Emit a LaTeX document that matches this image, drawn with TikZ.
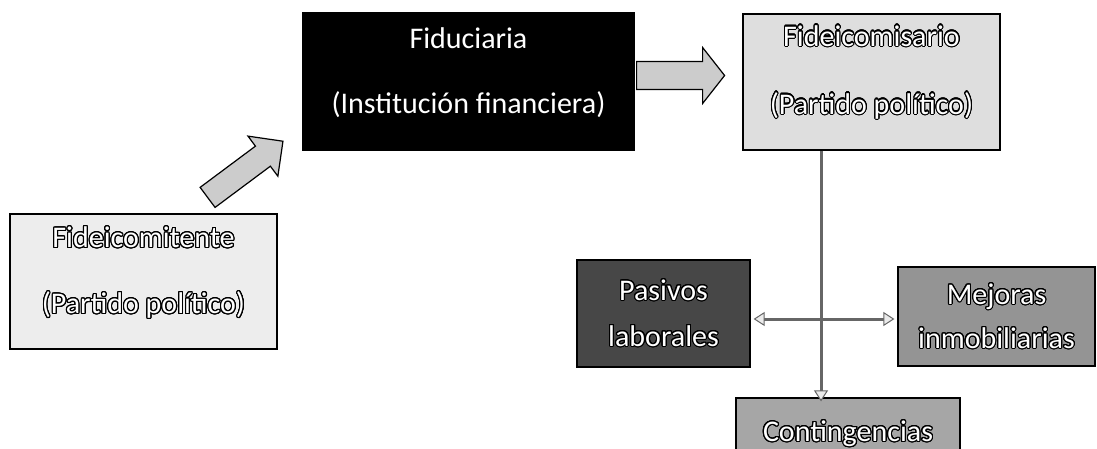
\documentclass[tikz,border=0pt]{standalone}
\usepackage{fontspec}
\setmainfont{Carlito}
\usepackage[copies]{contour}
\contourlength{1.1pt}
\contournumber{24}
\usetikzlibrary{arrows.meta,calc}
\newcommand{\olt}[1]{\contour{black}{#1}}
\tikzset{
  box/.style={draw=black, line width=1.2pt, inner sep=0pt, align=center,
    font=\fontsize{30}{36}\selectfont},
  lightbox/.style={box, fill=black!7, text=white},
  blockarrow/.style={draw=black, line width=1.2pt, fill=black!20, line join=miter},
  conn/.style={draw=black!60, line width=3pt,
    -{Triangle[length=11pt,width=14pt,fill=black!8,line width=1pt]}}
}
\begin{document}
\begin{tikzpicture}[x=1pt,y=-1pt]
\useasboundingbox (0,0) rectangle (1097,449);
% nodes
\node[lightbox, minimum width=267pt, minimum height=135pt] (fidc) at (143.5,281.5)
  {\olt{Fideicomitente}\\[30pt]\olt{(Partido político)}\\[-24pt]\strut};
\node[box, fill=black, text=white, minimum width=331pt, minimum height=137pt] (fidu) at (468.5,81.5)
  {Fiduciaria\\[29pt](Institución financiera)\\[-24pt]\strut};
\node[lightbox, fill=black!13, minimum width=257pt, minimum height=136pt] (fisa) at (871.5,82)
  {\olt{Fideicomisario}\\[32pt]\olt{(Partido político)}\\[-22pt]\strut};
\node[box, fill=black!72, text=white, minimum width=173pt, minimum height=107pt] (pas) at (663.5,313.5)
  {\olt{Pasivos}\\[10pt]\olt{laborales}};
\node[box, fill=black!42, text=white, minimum width=197pt, minimum height=99pt] (mej) at (996.5,316.5)
  {\olt{Mejoras}\\[8pt]\olt{inmobiliarias}};
\node[box, fill=black!35, text=white, minimum width=224pt, minimum height=72pt] (con) at (848,434)
  {\olt{Contingencias}};
% block arrows
\begin{scope}[shift={($(fidc.north east)+(-70,-16)$)}, rotate=36.7]
  \draw[blockarrow] (0,-12.5) -- (69,-12.5) -- (69,-25) -- (94,0) -- (69,25) -- (69,12.5) -- (0,12.5) -- cycle;
\end{scope}
\begin{scope}[shift={(fidu.east)}]
  \draw[blockarrow] (2,-20) -- (68,-20) -- (68,-34) -- (90,-6) -- (68,22) -- (68,8) -- (2,8) -- cycle;
\end{scope}
% connectors
\coordinate (j) at (821,319);
\draw[conn] (j |- fisa.south) -- ([yshift=-4pt]j |- con.north);
\draw[conn] (j) -- ([xshift=3pt]j -| pas.east);
\draw[conn] (j) -- ([xshift=-3pt]j -| mej.west);
\end{tikzpicture}
\end{document}
